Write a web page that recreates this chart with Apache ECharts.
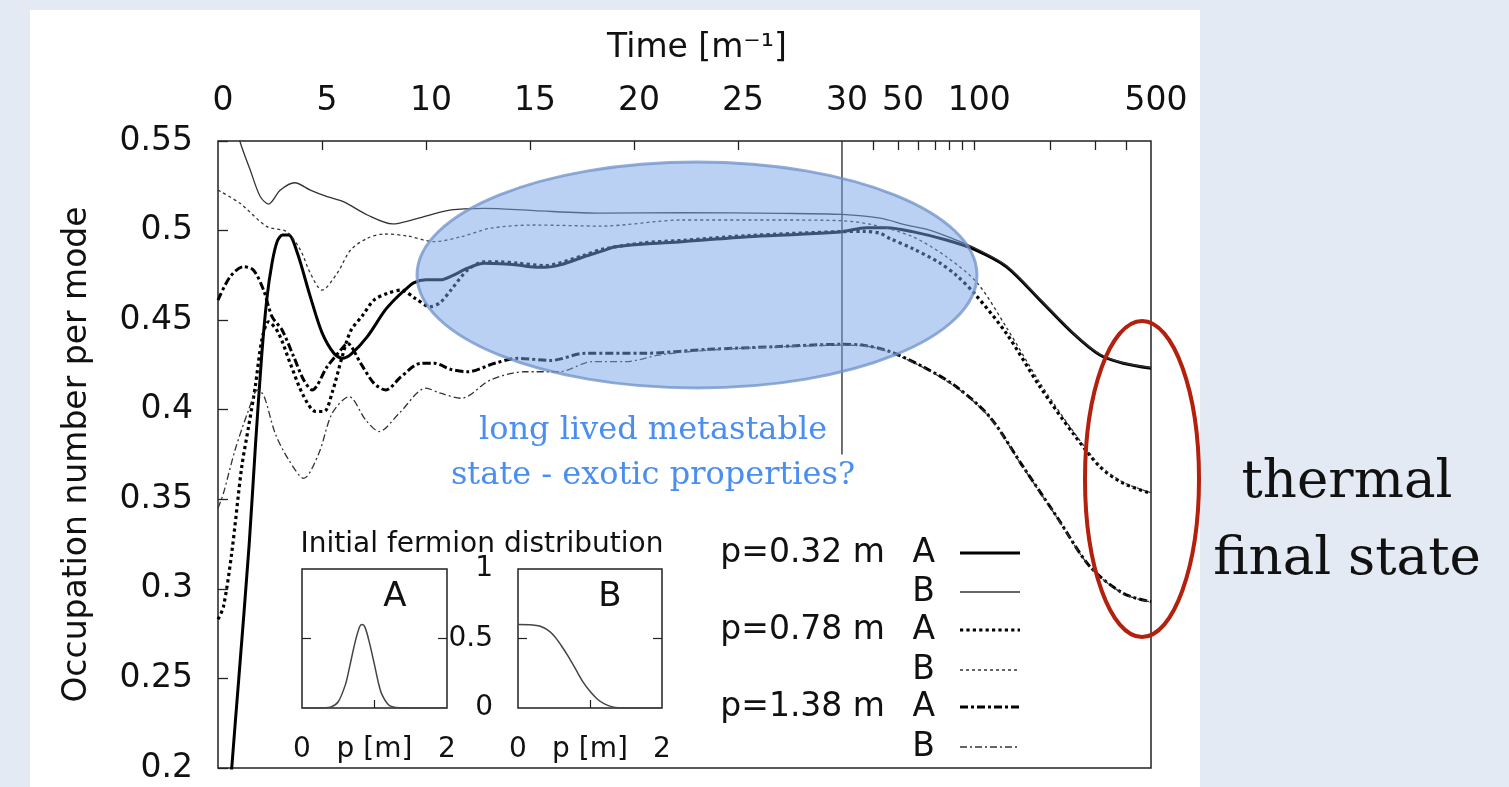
<!DOCTYPE html>
<html><head><meta charset="utf-8">
<script src="https://cdn.jsdelivr.net/npm/echarts@6/dist/echarts.min.js"></script>
<style>
html,body{margin:0;padding:0;width:1509px;height:787px;overflow:hidden;background:#e4eaf3;}
#panel{position:absolute;left:30px;top:10px;width:1170px;height:777px;background:#fff;}
#chart{position:absolute;left:0;top:0;width:1509px;height:787px;}
</style></head><body>
<div id="panel"></div><div id="chart"></div>
<script>
// ---- axis ticks ----
const timeTickLabels = [0, 5, 10, 15, 20, 25, 30, 50, 100, 500];
const timeMinorTicks = [5, 10, 15, 20, 25, 40, 50, 60, 70, 80, 90, 100, 200, 300, 400];
const yMin = 0.2, yMax = 0.55, yStep = 0.05;

// ---- p = 0.32 m ----
const tA1 = [0.55,0.66,1.0,1.5,1.8,2.1,2.35,2.6,2.85,3.1,3.4,3.8,4.44,5.0,5.57,5.98,6.4,7.18,8.0,8.47,9.0,9.43,10.0,10.7,11.3,12.0,12.8,13.6,14.4,15.0,15.7,16.5,17.6,18.45,19.1,20.5,22.3,25.5,28,30,37.5,45,57,77.6,100,134,182,246,314,388,500];
const vA1 = [0.18,0.20,0.25,0.325,0.38,0.43,0.462,0.482,0.494,0.4975,0.4975,0.488,0.463,0.443,0.4315,0.4287,0.431,0.4408,0.455,0.4612,0.467,0.471,0.4725,0.4725,0.475,0.479,0.4817,0.4815,0.4808,0.4798,0.4795,0.481,0.4854,0.4885,0.491,0.4925,0.4938,0.4966,0.498,0.4994,0.5016,0.5016,0.4994,0.4947,0.4895,0.4798,0.4612,0.4426,0.4305,0.4259,0.4231];
const tB1 = [0.5,1.06,1.55,2.03,2.43,3.0,3.69,4.44,5.25,6.05,7.18,8.39,9.6,11.2,12.8,15.2,18.45,22.3,27.1,30,42.4,54,66.6,85,100,134,182,246,314,388,500];
const vB1 = [0.575,0.5496,0.5338,0.519,0.5148,0.5226,0.5267,0.5226,0.5189,0.516,0.5087,0.5037,0.5068,0.5115,0.5124,0.5111,0.5097,0.510,0.5096,0.509,0.5069,0.5031,0.5003,0.4947,0.4905,0.4805,0.4618,0.443,0.431,0.4262,0.4235];

// ---- p = 0.78 m ----
const tA2 = [0,0.26,0.66,1.14,1.47,1.79,2.11,2.43,2.9,3.5,4.1,4.7,5.1,5.5,5.97,6.38,6.94,7.5,8.15,8.8,9.5,10.2,10.7,11.2,12.0,12.8,13.6,14.4,15.7,17.6,18.45,20.5,22.3,25.5,30,37,42.4,46.5,57,73,85,100,134,182,246,314,388,500];
const vA2 = [0.283,0.29,0.32,0.368,0.3905,0.4128,0.439,0.449,0.443,0.425,0.408,0.399,0.399,0.41,0.4296,0.444,0.4525,0.4612,0.465,0.4668,0.462,0.4575,0.460,0.4668,0.478,0.4826,0.4825,0.4818,0.4805,0.4862,0.4895,0.4932,0.4945,0.4972,0.4994,0.4995,0.4985,0.4955,0.490,0.482,0.475,0.465,0.4426,0.4128,0.3868,0.3682,0.359,0.3533];
const tB2 = [0,1.06,2.35,3.3,3.96,4.44,5.0,5.73,6.38,7.18,7.98,9.1,10.4,11.7,13.1,15.2,18.45,22.3,27.1,30,40,57,77.6,103,134,182,246,314,388,500];
const vB2 = [0.5226,0.5152,0.5022,0.4994,0.4892,0.4762,0.4668,0.4762,0.4892,0.4957,0.4981,0.497,0.4938,0.4966,0.5013,0.5031,0.5025,0.5059,0.5059,0.5055,0.5031,0.4966,0.4854,0.4706,0.446,0.415,0.388,0.369,0.3595,0.3537];

// ---- p = 1.38 m ----
const tA3 = [0,0.58,1.22,1.7,2.19,2.6,3.08,3.64,4.12,4.53,5.25,5.9,6.22,6.86,7.5,8.07,8.8,9.76,10.4,11.2,12.0,13.3,14.4,16.0,17.65,20.4,23.6,26.8,30,36,46.5,62.7,85,115,156,212,287,388,500];
const vA3 = [0.4612,0.4742,0.4798,0.478,0.4668,0.4519,0.4445,0.4296,0.4166,0.411,0.424,0.4333,0.437,0.4259,0.4147,0.411,0.4184,0.4259,0.4259,0.4225,0.4212,0.4259,0.4287,0.4275,0.4315,0.4315,0.4337,0.4352,0.4365,0.4361,0.4324,0.424,0.4128,0.3961,0.3682,0.3403,0.3124,0.2975,0.2928];
const tB3 = [0,0.26,0.82,1.47,1.9,2.2,2.75,3.4,4.12,4.85,5.49,6.3,7.1,7.75,8.71,10.0,10.7,11.7,13.1,14.75,16.4,18.0,19.6,21.2,23.6,26.8,30,36,46.5,62.7,85,115,156,212,287,388,500];
const vB3 = [0.345,0.3533,0.3775,0.3998,0.411,0.408,0.3868,0.372,0.3617,0.3757,0.398,0.4073,0.3943,0.3878,0.398,0.412,0.4092,0.4064,0.4166,0.4212,0.4212,0.4268,0.4268,0.4305,0.4333,0.435,0.436,0.4358,0.432,0.4236,0.4124,0.3957,0.3678,0.34,0.3122,0.2973,0.2926];

// ---- inset: initial fermion distributions ----
const pA = [0,0.2,0.3,0.4,0.5,0.6,0.65,0.7,0.75,0.8,0.83,0.87,0.93,1.0,1.05,1.1,1.2,1.3,1.4,2.0];
const fA = [0,0,0.002,0.008,0.045,0.17,0.28,0.40,0.51,0.59,0.60,0.58,0.47,0.31,0.19,0.10,0.02,0.003,0,0];
const pB = [0,0.2,0.3,0.4,0.5,0.6,0.7,0.8,0.9,1.0,1.1,1.2,1.3,1.4,1.6,2.0];
const fB = [0.6,0.598,0.59,0.565,0.52,0.45,0.37,0.28,0.19,0.12,0.065,0.03,0.01,0.002,0,0];

// mixed axis: linear up to 30, logarithmic beyond
const LIN_END = 30, LOG_K = 12.16;
function tu(t){ return t <= LIN_END ? t : LIN_END + LOG_K * Math.log10(t / LIN_END); }
const U_MAX = tu(500);
const pts = (ts, vs) => ts.map((t, i) => [tu(t), vs[i]]);

const FONT = '"DejaVu Sans", sans-serif';
const SERIF = '"DejaVu Serif", serif';
const INK = '#111';

function line(name, ts, vs, width, color, type) {
  return { name, type: 'line', data: pts(ts, vs), xAxisIndex: 0, yAxisIndex: 0,
    symbol: 'none', smooth: 0.3, clip: true, silent: true, z: 3,
    lineStyle: { width, color, type, cap: 'butt' } };
}

const chart = echarts.init(document.getElementById('chart'), null, { renderer: 'canvas' });

const legendRows = [
  { p: 'p=0.32 m', ab: 'A', w: 3, c: '#000', dash: null },
  { p: '', ab: 'B', w: 1.3, c: '#333', dash: null },
  { p: 'p=0.78 m', ab: 'A', w: 3.2, c: '#000', dash: [3.2, 3.2] },
  { p: '', ab: 'B', w: 1.3, c: '#333', dash: [3, 3] },
  { p: 'p=1.38 m', ab: 'A', w: 3, c: '#000', dash: [8, 3, 3, 3] },
  { p: '', ab: 'B', w: 1.3, c: '#333', dash: [7, 3, 2, 3] }
];
const legendY = [553, 592, 630, 670, 707, 747];
const graphics = [];
legendRows.forEach((r, i) => {
  const y = legendY[i];
  if (r.p) graphics.push({ type: 'text', x: 885, y, style: { text: r.p, font: '33px ' + FONT, fill: INK, align: 'right', verticalAlign: 'middle' } });
  graphics.push({ type: 'text', x: 935, y, style: { text: r.ab, font: '33px ' + FONT, fill: INK, align: 'right', verticalAlign: 'middle' } });
  graphics.push({ type: 'line', shape: { x1: 960, y1: y, x2: 1020, y2: y }, style: { stroke: r.c, lineWidth: r.w, lineDash: r.dash } });
});
graphics.push(
  { type: 'text', x: 482, y: 545, style: { text: 'Initial fermion distribution', font: '28px ' + FONT, fill: INK, align: 'center', verticalAlign: 'middle' } },
  { type: 'text', x: 395, y: 597, style: { text: 'A', font: '34px ' + FONT, fill: INK, align: 'center', verticalAlign: 'middle' } },
  { type: 'text', x: 610, y: 597, style: { text: 'B', font: '34px ' + FONT, fill: INK, align: 'center', verticalAlign: 'middle' } },
  { type: 'ellipse', z: 50, shape: { cx: 697, cy: 275, rx: 280, ry: 113 },
    style: { fill: 'rgba(118,163,233,0.5)', stroke: 'rgba(112,146,200,0.75)', lineWidth: 3 } },
  { type: 'text', z: 60, x: 653, y: 431, style: { text: 'long lived metastable', font: '32px ' + SERIF, fill: '#4a8ef0', align: 'center', verticalAlign: 'middle' } },
  { type: 'text', z: 60, x: 653, y: 476, style: { text: 'state - exotic properties?', font: '32px ' + SERIF, fill: '#4a8ef0', align: 'center', verticalAlign: 'middle' } },
  { type: 'ellipse', z: 50, shape: { cx: 1142, cy: 479, rx: 57, ry: 158 },
    style: { fill: 'none', stroke: '#b3200e', lineWidth: 4 } },
  { type: 'text', z: 60, x: 1347, y: 483, style: { text: 'thermal', font: '53px ' + SERIF, fill: INK, align: 'center', verticalAlign: 'middle' } },
  { type: 'text', z: 60, x: 1347, y: 560, style: { text: 'final state', font: '53px ' + SERIF, fill: INK, align: 'center', verticalAlign: 'middle' } }
);

const insetX = (gi) => ({
  gridIndex: gi, type: 'value', min: 0, max: 2, position: 'bottom',
  axisLine: { show: false }, splitLine: { show: false },
  axisTick: { inside: true, length: 8, customValues: [1], lineStyle: { color: '#222', width: 1.2 } },
  axisLabel: { customValues: [0, 2], margin: 28, fontSize: 28, fontFamily: FONT, color: INK },
  name: 'p [m]', nameLocation: 'middle', nameGap: 28, nameMoveOverlap: false,
  nameTextStyle: { fontSize: 28, fontFamily: FONT, color: INK, verticalAlign: 'top' }
});
const insetY = (gi, pos, labels) => ({
  gridIndex: gi, type: 'value', min: 0, max: 1, position: pos,
  axisLine: { show: false }, splitLine: { show: false },
  axisTick: { inside: true, length: 9, customValues: [0.5], lineStyle: { color: '#222', width: 1.2 } },
  axisLabel: labels ? { customValues: [0, 0.5, 1], margin: 25, fontSize: 28, fontFamily: FONT, color: INK,
      formatter: v => String(v) } : { show: false }
});

chart.setOption({
  animation: false,
  backgroundColor: 'transparent',
  grid: [
    { left: 218, top: 141, width: 933, height: 627, show: true, borderColor: '#222', borderWidth: 1.5, backgroundColor: 'transparent', containLabel: false },
    { left: 302, top: 569, width: 145, height: 139, show: true, borderColor: '#222', borderWidth: 1.5, backgroundColor: 'transparent' },
    { left: 518, top: 569, width: 144, height: 139, show: true, borderColor: '#222', borderWidth: 1.5, backgroundColor: 'transparent' }
  ],
  xAxis: [
    { gridIndex: 0, type: 'value', position: 'top', min: 0, max: U_MAX,
      axisLine: { show: false }, splitLine: { show: false },
      axisTick: { inside: true, length: 9, customValues: timeMinorTicks.map(tu), lineStyle: { color: '#222', width: 1.3 } },
      axisLabel: { customValues: timeTickLabels.map(tu), margin: 23, fontSize: 33, fontFamily: FONT, color: INK,
        padding: [0, 0, 0, 10], hideOverlap: false,
        formatter: (u) => { let best = timeTickLabels[0], d = 1e9; timeTickLabels.forEach(t => { const e = Math.abs(tu(t) - u); if (e < d) { d = e; best = t; } }); return String(best); } },
      name: 'Time [m\u207B\u00B9]', nameLocation: 'middle', nameGap: 76, nameMoveOverlap: false,
      nameTextStyle: { fontSize: 33, fontFamily: FONT, color: INK, padding: [0, 0, 0, 25] } },
    insetX(1), insetX(2)
  ],
  yAxis: [
    { gridIndex: 0, type: 'value', min: yMin, max: yMax, interval: yStep,
      axisLine: { show: false }, splitLine: { show: false },
      axisTick: { inside: true, length: 10, lineStyle: { color: '#222', width: 1.3 } },
      axisLabel: { margin: 25, fontSize: 33, fontFamily: FONT, color: INK, formatter: v => String(+v.toFixed(2)) },
      name: 'Occupation number per mode', nameLocation: 'middle', nameRotate: 90, nameGap: 124, nameMoveOverlap: false,
      nameTextStyle: { fontSize: 33, fontFamily: FONT, color: INK } },
    insetY(1, 'left', false), insetY(1, 'right', false),
    insetY(2, 'left', true), insetY(2, 'right', false)
  ],
  series: [
    line('p=0.32 m A', tA1, vA1, 3, '#000', 'solid'),
    line('p=0.32 m B', tB1, vB1, 1.3, '#333', 'solid'),
    line('p=0.78 m A', tA2, vA2, 3.2, '#000', [3.2, 3.2]),
    line('p=0.78 m B', tB2, vB2, 1.3, '#333', [3, 3]),
    line('p=1.38 m A', tA3, vA3, 3, '#000', [8, 3, 3, 3]),
    line('p=1.38 m B', tB3, vB3, 1.3, '#333', [7, 3, 2, 3]),
    { name: 'linear/log boundary', type: 'line', xAxisIndex: 0, yAxisIndex: 0, symbol: 'none', silent: true,
      data: [[tu(30), 0.55], [tu(30), 0.375]], lineStyle: { color: '#222', width: 1.3 } },
    { name: 'A', type: 'line', xAxisIndex: 1, yAxisIndex: 1, symbol: 'none', smooth: 0.3, silent: true,
      data: pA.map((p, i) => [p, fA[i]]), lineStyle: { color: '#444', width: 1.5 } },
    { name: 'B', type: 'line', xAxisIndex: 2, yAxisIndex: 3, symbol: 'none', smooth: 0.3, silent: true,
      data: pB.map((p, i) => [p, fB[i]]), lineStyle: { color: '#444', width: 1.5 } }
  ],
  graphic: { elements: graphics }
});
</script>
</body></html>
